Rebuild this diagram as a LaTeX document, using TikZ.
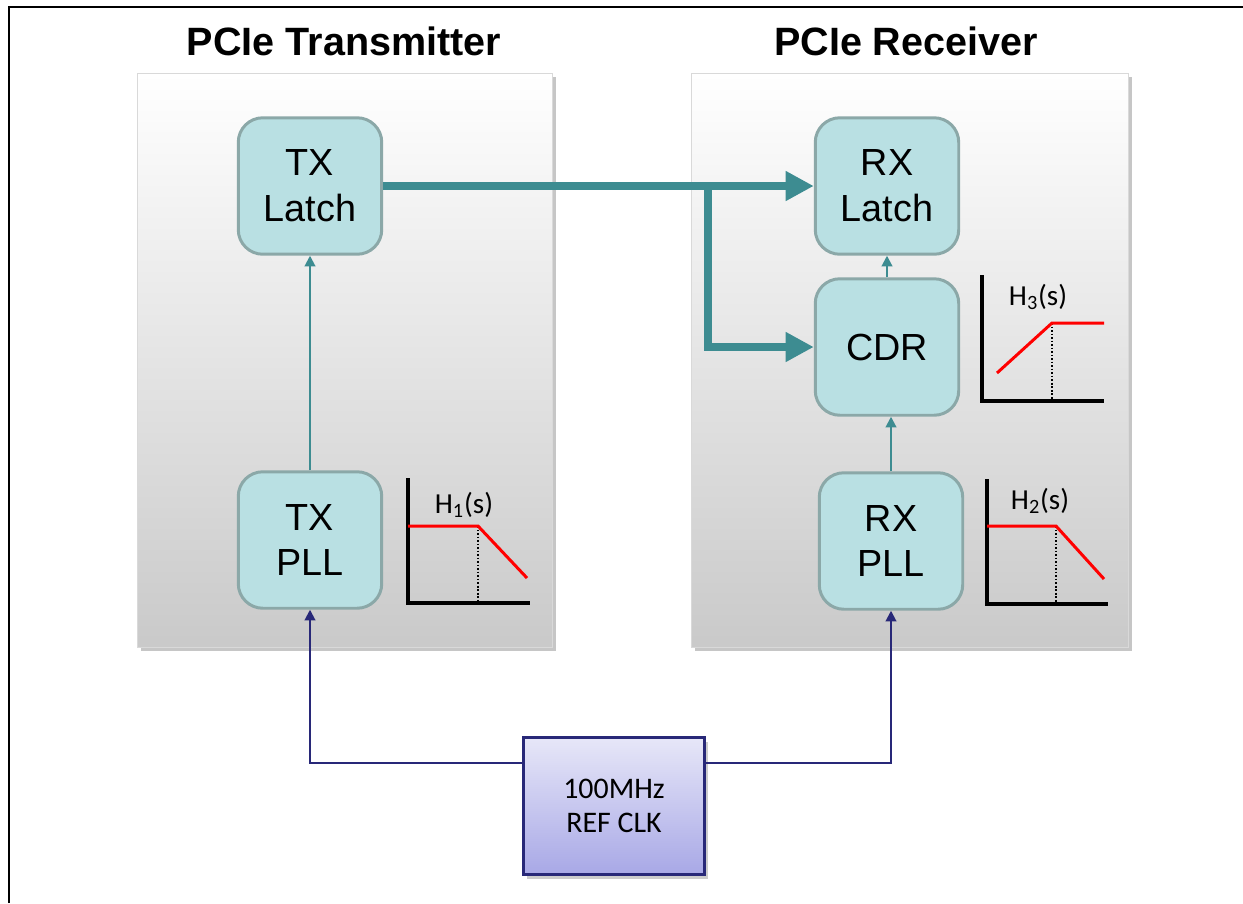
\documentclass[tikz,border=0pt]{standalone}
\usepackage{fontspec}
\setmainfont{Liberation Sans}
\newfontfamily\calibri{Carlito}
\usetikzlibrary{arrows.meta,shadows}
\definecolor{boxfill}{RGB}{185,224,227}
\definecolor{boxline}{RGB}{139,168,168}
\definecolor{busteal}{RGB}{61,140,145}
\definecolor{clknavy}{RGB}{40,40,120}
\definecolor{clktop}{RGB}{231,231,248}
\definecolor{clkbot}{RGB}{168,168,230}
\begin{document}
\begin{tikzpicture}[x=0.02cm,y=-0.02cm]
\tikzstyle{block}=[draw=boxline,line width=1.7pt,fill=boxfill,rounded corners=14pt,minimum width=2.87cm,minimum height=2.73cm,align=center,inner sep=0pt,font=\fontsize{21.5pt}{26pt}\selectfont]
\tikzstyle{panel}=[draw=black!15,line width=0.5pt,top color=white,middle color=black!4,bottom color=black!21,drop shadow={shadow xshift=2pt,shadow yshift=-2.5pt,opacity=0.45}]
\tikzstyle{refbox}=[draw=clknavy,line width=1.2pt,top color=clktop,bottom color=clkbot,minimum width=3.62cm,minimum height=2.74cm,align=center,font=\calibri\fontsize{17pt}{19.5pt}\selectfont,drop shadow={shadow xshift=2pt,shadow yshift=-2.5pt,opacity=0.4}]
\tikzstyle{title}=[anchor=base,font=\bfseries\fontsize{22.5pt}{27pt}\selectfont]
\tikzstyle{bus}=[busteal,line width=5pt,-{Triangle[length=16pt,width=16pt]}]
\tikzstyle{link}=[busteal,line width=1.1pt,-{Triangle[length=6pt,width=6pt]}]
\tikzstyle{clk}=[clknavy,line width=1.1pt,-{Triangle[length=6pt,width=6pt]}]
\tikzstyle{hlabel}=[font=\calibri\fontsize{16.5pt}{19pt}\selectfont]
\tikzstyle{axis}=[line width=2.8pt]
\tikzstyle{resp}=[red,line width=1.7pt]
\tikzstyle{cut}=[line width=1pt,dash pattern=on 1pt off 1pt]

\useasboundingbox (0,0) rectangle (1243,903);
\draw[line width=1.2pt] (9,903) -- (9,7) -- (1243,7);

\path[panel] (137,73) rectangle (552,647);
\path[panel] (691,73) rectangle (1128,647);
\node[title] (txtitle) at (344,55) {PCIe Transmitter};
\node[title] (rxtitle) at (906,55) {PCIe Receiver};

\path (310,186) node[block](txlatch){TX\\Latch}
      (310,540) node[block](txpll){TX\\PLL}
      (887,186) node[block](rxlatch){RX\\Latch}
      (887,347) node[block](cdr){CDR}
      (891,541) node[block](rxpll){RX\\PLL};

\coordinate (split) at (708,186);
\draw[bus] (txlatch) -- (rxlatch);
\draw[bus] (split) |- (cdr);
\draw[link] (txpll) -- (txlatch);
\draw[link] (cdr) -- (rxlatch);
\draw[link] (rxpll.north) -- (rxpll.north |- cdr.south);

\path (614,806) node[refbox](refclk){100MHz\\REF CLK};
\draw[clk] (refclk.155) -| (txpll);
\draw[clk] (refclk.25) -| (rxpll);

\draw[axis] (408,478) -- (408,603) -- (530,603);
\draw[cut] (478,526) -- (478,603);
\draw[resp] (408,526) -- (478,526) -- (527,578);
\node[hlabel] (h1) at (464,505) {H\textsubscript{1}(s)};

\draw[axis] (987,479) -- (987,604) -- (1108,604);
\draw[cut] (1056,526) -- (1056,604);
\draw[resp] (987,526) -- (1056,526) -- (1104,579);
\node[hlabel] (h2) at (1040,501) {H\textsubscript{2}(s)};

\draw[axis] (982,275) -- (982,401) -- (1104,401);
\draw[cut] (1052,323) -- (1052,401);
\draw[resp] (997,373) -- (1052,323) -- (1104,323);
\node[hlabel] (h3) at (1038,297) {H\textsubscript{3}(s)};
\end{tikzpicture}
\end{document}
